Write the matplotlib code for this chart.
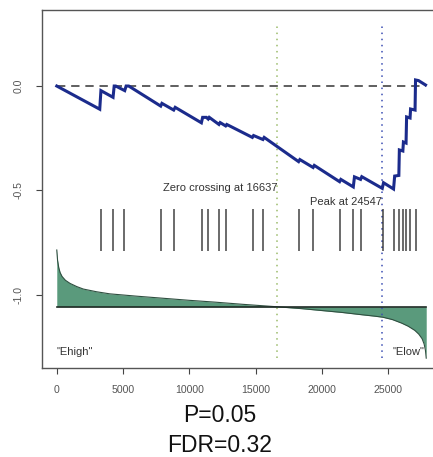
import numpy as np
import matplotlib
matplotlib.use('Agg')
import matplotlib.pyplot as plt

plt.rcParams['font.family'] = ['Liberation Sans', 'DejaVu Sans']

# running enrichment score, vertices of the step path (rank, ES)
es_rank = [0, 3240, 3330, 4243, 4330, 4446, 5124, 5230, 5426, 7837, 7930, 8817,
           8930, 10904, 11000, 11281, 11417, 11500, 12230, 12320, 12735, 12820,
           14748, 14840, 15546, 15640, 18236, 18330, 19329, 19420, 21326, 21420,
           22359, 22450, 22909, 23000, 24544, 24640, 25395, 25480, 25795, 25834,
           26097, 26140, 26338, 26380, 26640, 26680, 27017, 27054, 27280, 27808]
es_value = [0.0, -0.111, -0.022, -0.054, 0.0, 0.0, -0.022, 0.0, 0.0, -0.096, -0.083, -0.115,
            -0.102, -0.176, -0.150, -0.150, -0.158, -0.150, -0.184, -0.175, -0.191, -0.184,
            -0.246, -0.237, -0.256, -0.246, -0.362, -0.352, -0.390, -0.380, -0.458, -0.447,
            -0.483, -0.435, -0.447, -0.434, -0.490, -0.463, -0.493, -0.431, -0.428, -0.306,
            -0.311, -0.268, -0.273, -0.148, -0.153, -0.110, -0.115, 0.029, 0.026, 0.005]

# positions of the gene set members in the ranked list
hits = [3316, 4258, 5087, 7837, 8840, 10965, 11417, 12230, 12735, 14770, 15546,
        18252, 19345, 21326, 22359, 22909, 24567, 25411, 25795, 26096, 26337,
        26639, 27054]

# ranked metric profile, drawn on the same axis below the barcode
metric_rank = [0, 60, 150, 250, 400, 650, 1000, 1500, 2000, 3000, 4000, 6000, 8000,
               10000, 12000, 14000, 16637, 18500, 20000, 21500, 23000, 24000, 24590,
               25300, 26000, 26500, 27000, 27300, 27550, 27700, 27800, 27860]
metric_value = [-0.785, -0.835, -0.870, -0.893, -0.912, -0.930, -0.945, -0.960, -0.972,
                -0.985, -0.995, -1.006, -1.016, -1.026, -1.035, -1.045, -1.057, -1.066,
                -1.075, -1.084, -1.095, -1.102, -1.107, -1.118, -1.135, -1.150, -1.170,
                -1.188, -1.210, -1.235, -1.265, -1.303]

baseline = -1.057
zero_cross = 16637
peak = 24547
n_genes = 27860
bar_top, bar_bottom = -0.588, -0.79

xticks = [0, 5000, 10000, 15000, 20000, 25000]
yticks = [0.0, -0.5, -1.0]
ytick_labels = ['0.0', '-0.5', '-1.0']

fig = plt.figure(figsize=(4.33, 4.57), dpi=100)
W, H = 433, 457
ax = fig.add_axes([42 / W, 1 - 368 / H, (441 - 42) / W, (368 - 10) / H])
ax.set_xlim(-1114, 28974)
ax.set_ylim(-1.35, 0.364)

# markers for zero crossing and peak
ax.plot([zero_cross, zero_cross], [-1.30, 0.292], ls=(0, (1, 3)), color='#9bbb6a', lw=1.1)
ax.plot([peak, peak], [-1.30, 0.292], ls=(0, (1, 3)), color='#3a4db3', lw=1.1)

ax.plot([0, 27808], [0, 0], ls=(0, (5, 3.5)), color='#444444', lw=1.2)
ax.plot(es_rank, es_value, color='#1b2b8c', lw=2.2, solid_joinstyle='miter')

ax.vlines(hits, bar_bottom, bar_top, color='#222222', lw=1.1, alpha=0.85)

ax.fill_between(metric_rank, metric_value, baseline, color='#5a9a7c', lw=0)
ax.plot(metric_rank, metric_value, color='#2f4f40', lw=0.8)
ax.plot([0, n_genes], [baseline, baseline], color='#1e2a24', lw=1.2)

lbl = dict(fontsize=8, color='#333333')
ax.text(zero_cross, -0.488, 'Zero crossing at %d' % zero_cross, ha='right', va='center', **lbl)
ax.text(peak, -0.553, 'Peak at %d' % peak, ha='right', va='center', **lbl)
ax.text(0, -1.275, '"Ehigh"', ha='left', va='center', **lbl)
ax.text(27750, -1.275, '"Elow"', ha='right', va='center', **lbl)

ax.set_xticks(xticks)
ax.set_xticklabels([str(t) for t in xticks])
ax.set_yticks(yticks)
ax.set_yticklabels(ytick_labels, rotation=90, va='center')
ax.tick_params(axis='both', direction='out', length=4, width=0.8, color='#444444',
               labelsize=7.6, labelcolor='#555555')
ax.tick_params(axis='x', pad=8)
ax.tick_params(axis='y', pad=9)
for s in ax.spines.values():
    s.set_color('#555555')
    s.set_linewidth(1.0)

fig.text(220 / W, 1 - 416 / H, 'P=0.05', ha='center', va='center', fontsize=16.5, color='#111111')
fig.text(220 / W, 1 - 446 / H, 'FDR=0.32', ha='center', va='center', fontsize=16.5, color='#111111')

fig.savefig('out.png', dpi=100)
